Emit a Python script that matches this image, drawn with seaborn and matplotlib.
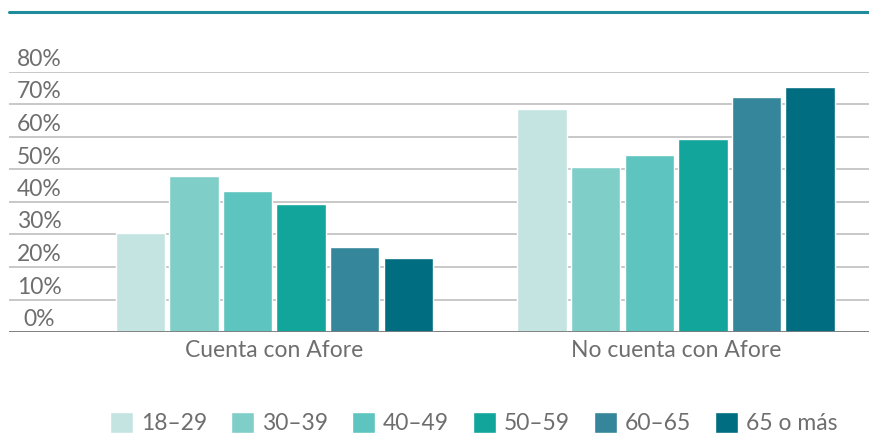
import matplotlib
matplotlib.use("Agg")
import matplotlib.pyplot as plt
import matplotlib.transforms as mtransforms
from matplotlib.lines import Line2D
import seaborn as sns
import pandas as pd

categories = ["Cuenta con Afore", "No cuenta con Afore"]
age_groups = ["18–29", "30–39", "40–49", "50–59", "60–65", "65 o más"]
cuenta_con = [30.5, 48.1, 43.4, 39.4, 26.2, 22.8]
no_cuenta = [68.7, 50.8, 54.5, 59.5, 72.4, 75.5]
ytick_values = [0, 10, 20, 30, 40, 50, 60, 70, 80]
ytick_labels = ["0%", "10%", "20%", "30%", "40%", "50%", "60%", "70%", "80%"]
colors = ["#C3E4E1", "#80CEC8", "#5EC4C0", "#12A59C", "#35869A", "#006D80"]

rows = []
for g, v in zip(age_groups, cuenta_con):
    rows.append({"cat": categories[0], "edad": g, "val": v})
for g, v in zip(age_groups, no_cuenta):
    rows.append({"cat": categories[1], "edad": g, "val": v})
df = pd.DataFrame(rows)

sns.set_style("white")
plt.rcParams["font.family"] = ["Lato", "DejaVu Sans"]

TXT = "#6E6E6E"
FS = 16.5
W, H = 869, 436
fig = plt.figure(figsize=(W / 100, H / 100), dpi=100)
ax = fig.add_axes([9 / W, (H - 332) / H, (W - 9) / W, (332 - 72) / H])

sns.barplot(data=df, x="cat", y="val", hue="edad", order=categories,
            hue_order=age_groups, palette=colors, width=0.8, gap=0.08,
            saturation=1, ax=ax, legend=True, zorder=3)

ax.set_ylim(0, 80)
ax.set_xlim(-0.66, 1.48)
ax.set_yticks(ytick_values)
ax.yaxis.grid(True, color="#C4C4C4", linewidth=1.3, zorder=0)
ax.set_axisbelow(True)
ax.tick_params(axis="y", length=0, labelleft=False)
ax.tick_params(axis="x", length=0, pad=6, labelsize=FS, labelcolor=TXT)
for s in ax.spines.values():
    s.set_visible(False)
ax.axhline(0, color="#7A7A7A", linewidth=2, zorder=4)
ax.set_xlabel("")
ax.set_ylabel("")

trans = mtransforms.blended_transform_factory(fig.transFigure, ax.transData)
trans = mtransforms.offset_copy(trans, fig=fig, y=2, units="dots")
for v, lab in zip(ytick_values, ytick_labels):
    ax.text(39 / W, v, lab, transform=trans, ha="center", va="bottom",
            fontsize=FS, color=TXT, clip_on=False)

fig.add_artist(Line2D([9 / W, 1], [1 - 12 / H, 1 - 12 / H],
                      color="#1E8C9A", linewidth=2.2))

handles, labels = ax.get_legend_handles_labels()
ax.get_legend().remove()
leg = fig.legend(handles, labels, loc="lower center", ncol=6,
                 bbox_to_anchor=(474 / W, 0.004), frameon=False,
                 fontsize=FS, handlelength=1.0, handleheight=1.0,
                 handletextpad=0.35, columnspacing=1.05, borderaxespad=0,
                 borderpad=0)
for t in leg.get_texts():
    t.set_color(TXT)

fig.savefig("out.png", dpi=100)
